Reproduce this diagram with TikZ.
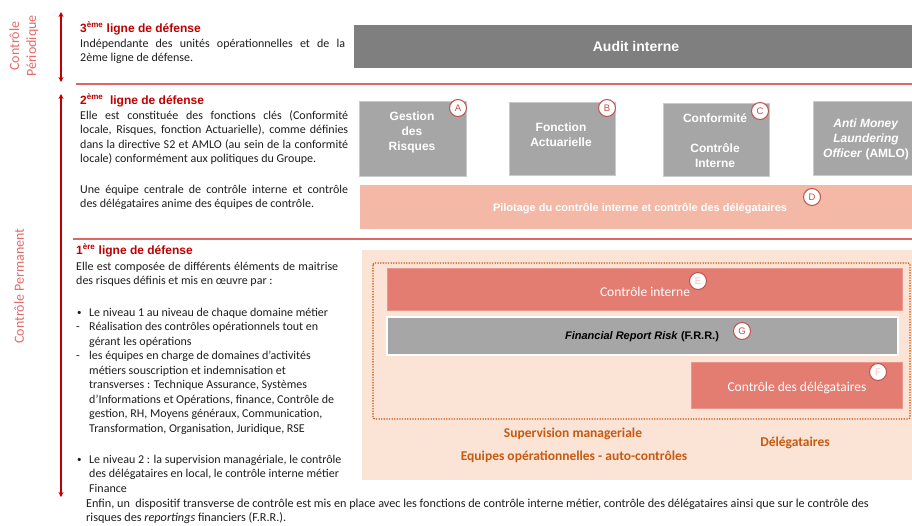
\documentclass[tikz,border=0pt]{standalone}
\usepackage{fontspec}
\setmainfont{Carlito}
\newfontfamily\arialf{Liberation Sans}
\usetikzlibrary{arrows.meta}
\definecolor{darkred}{HTML}{C00000}
\definecolor{linered}{HTML}{E06666}
\definecolor{labelred}{HTML}{E46C6C}
\definecolor{auditgray}{HTML}{7F7F7F}
\definecolor{boxgray}{HTML}{A6A6A6}
\definecolor{pilot}{HTML}{F4B8A6}
\definecolor{peach}{HTML}{FBE3D6}
\definecolor{ctrlred}{HTML}{E37C71}
\definecolor{orangetxt}{HTML}{C55A11}
\definecolor{circred}{HTML}{C0504D}
\definecolor{bodytxt}{HTML}{1E1E1E}
\newcommand\jl[2]{\makebox[#1pt][s]{#2}}
\newcommand\bul{\makebox[13pt][l]{\hspace*{1pt}\raisebox{0.4pt}{\fontsize{9}{9}\selectfont•}}}
\newcommand\dsh{\makebox[13pt][l]{-}}
\begin{document}
\begin{tikzpicture}[x=1pt,y=-1pt,
  sidearrow/.style={draw=darkred, line width=1.6pt, {Stealth[length=5pt,width=5pt]}-{Stealth[length=5pt,width=5pt]}},
  sepline/.style={draw=linered, line width=1.5pt},
  sidelabel/.style={rotate=90, text=labelred, font=\fontsize{14}{17}\selectfont, align=center, inner sep=0pt},
  titletext/.style={anchor=base west, inner sep=0pt, text=darkred, font=\arialf\bfseries\fontsize{12}{14}\selectfont},
  bodytext/.style={anchor=base west, inner sep=0pt, align=left, text=bodytxt, font=\fontsize{12}{14.5}\selectfont},
  graybox/.style={fill=boxgray, draw=boxgray!60!white, line width=0.8pt, inner sep=0pt},
  boxlabel/.style={text=white, font=\arialf\bfseries\fontsize{12}{15}\selectfont, align=center, inner sep=0pt},
  redbox/.style={fill=ctrlred, draw=ctrlred!80!white, line width=0.6pt, inner sep=0pt},
  redlabel/.style={text=white, font=\fontsize{13.5}{16}\selectfont, inner sep=0pt},
  orangelabel/.style={text=orangetxt, font=\bfseries\fontsize{13.5}{16}\selectfont, inner sep=0pt},
  letter/.style={circle, draw=circred, fill=white, line width=1pt, minimum size=17pt, inner sep=0pt, font=\arialf\fontsize{9.5}{10}\selectfont, text=circred},
  paleletter/.style={letter, text=ctrlred!45!white},
]
\useasboundingbox (0,0) rectangle (912,525);
\fill[white] (0,0) rectangle (912,525);

% side arrows and labels
\coordinate (a1t) at (61,12);
\coordinate (a1b) at (61,82);
\coordinate (a2t) at (61,94);
\coordinate (a2b) at (61,497);
\draw[sidearrow] (a1t) -- (a1b);
\draw[sidearrow] (a2t) -- (a2b);
\node[sidelabel] (lperio) at (24,46) {Contrôle\\Périodique};
\node[sidelabel] (lperm) at (19,286) {Contrôle Permanent};

% separator lines
\coordinate (s1l) at (76,84);
\coordinate (s1r) at (912,84);
\coordinate (s2l) at (73,239);
\coordinate (s2r) at (912,239);
\draw[sepline] (s1l) -- (s1r);
\draw[sepline] (s2l) -- (s2r);

% 3eme ligne (base anchor = last line baseline)
\node[titletext] (t3) at (80,32) {3\textsuperscript{ème} ligne de défense};
\node[bodytext] (b3) at (80,61.5) {\jl{265}{Indépendante des unités opérationnelles et de la}\\2ème ligne de défense.};
\node[fill=auditgray, inner sep=0pt, minimum width=558pt, minimum height=43pt] (audit) at (633,46.5) {};
\node[boxlabel, font=\arialf\bfseries\fontsize{14}{16}\selectfont] (auditl) at (636,46.5) {Audit interne};

% 2eme ligne
\node[titletext] (t2) at (80,104) {2\textsuperscript{ème}\ \ ligne de défense};
\node[bodytext] (b2a) at (80,162.5) {\jl{268}{Elle est constituée des fonctions clés (Conformité}\\
\jl{268}{locale, Risques, fonction Actuarielle), comme définies}\\
\jl{268}{dans la directive S2 et AMLO (au sein de la conformité}\\
locale) conformément aux politiques du Groupe.};
\node[bodytext] (b2b) at (80,207.5) {\jl{268}{Une équipe centrale de contrôle interne et contrôle}\\
des délégataires anime des équipes de contrôle.};

\node[graybox, minimum width=107pt, minimum height=75pt] (gest) at (412.5,138.5) {};
\node[boxlabel] (gestl) at (412,132) {Gestion\\des\\Risques};
\node[graybox, minimum width=106pt, minimum height=73pt] (fonc) at (562,138.5) {};
\node[boxlabel] (foncl) at (561,135) {Fonction\\Actuarielle};
\node[graybox, minimum width=106pt, minimum height=73pt] (conf) at (716,139.5) {};
\node[boxlabel] (confl) at (715,140.5) {Conformité\\[15pt]Contrôle\\Interne};
\node[graybox, minimum width=99pt, minimum height=74pt] (amlo) at (862.5,138) {};
\node[boxlabel] (amlol) at (866,139) {\textit{Anti Money}\\\textit{Laundering}\\\textit{Officer} (AMLO)};
\node[fill=pilot, inner sep=0pt, minimum width=552pt, minimum height=44pt] (pilot) at (636,207) {};
\node[boxlabel, font=\arialf\bfseries\fontsize{11}{13}\selectfont] (pilotl) at (640,209) {Pilotage du contrôle interne et contrôle des délégataires};

\node[letter] (cA) at (458,108) {A};
\node[letter] (cB) at (607,108) {B};
\node[letter] (cC) at (760,111) {C};
\node[letter] (cD) at (812,197) {D};

% 1ere ligne
\node[titletext] (t1) at (76,254) {1\textsuperscript{ère} ligne de défense};
\node[bodytext] (b1a) at (76,284.5) {\jl{262}{Elle est composée de différents éléments de maitrise}\\
des risques définis et mis en œuvre par :};
\node[bodytext] (b1b) at (76,432) {\bul Le niveau 1 au niveau de chaque domaine métier\\
\dsh Réalisation des contrôles opérationnels tout en\\
\hspace*{13pt}gérant les opérations\\
\dsh les équipes en charge de domaines d’activités\\
\hspace*{13pt}métiers souscription et indemnisation et\\
\hspace*{13pt}transverses : Technique Assurance, Systèmes\\
\hspace*{13pt}d’Informations et Opérations, finance, Contrôle de\\
\hspace*{13pt}gestion, RH, Moyens généraux, Communication,\\
\hspace*{13pt}Transformation, Organisation, Juridique, RSE};
\node[bodytext] (b1c) at (76,492) {\bul Le niveau 2 : la supervision managériale, le contrôle\\
\hspace*{13pt}des délégataires en local, le contrôle interne métier\\
\hspace*{13pt}Finance};
\node[bodytext, font=\fontsize{12.2}{14.5}\selectfont] (b1d) at (86,521.5) {Enfin, un \ dispositif transverse de contrôle est mis en place avec les fonctions de contrôle interne métier, contrôle des délégataires ainsi que sur le contrôle des\\
risques des \textit{reportings} financiers (F.R.R.).};

% right panel
\node[fill=peach, inner sep=0pt, minimum width=550pt, minimum height=230pt] (panel) at (637,365) {};
\coordinate (dotnw) at (373,263);
\coordinate (dotse) at (910,419);
\draw[orangetxt, line width=1.3pt, dash pattern=on 1.3pt off 1.3pt, rounded corners=2pt] (dotnw) rectangle (dotse);
\node[redbox, minimum width=515pt, minimum height=42pt] (ci) at (644.5,289) {};
\node[redlabel] (cil) at (645,292) {Contrôle interne};
\node[fill=boxgray, draw=white, line width=1.2pt, inner sep=0pt, minimum width=511pt, minimum height=38pt] (frr) at (642.5,336) {};
\node[font=\arialf\bfseries\fontsize{11}{13}\selectfont, text=black, inner sep=0pt] (frrl) at (642,337) {\textit{Financial Report Risk} (F.R.R.)};
\node[redbox, minimum width=211pt, minimum height=46pt] (cd) at (796.5,385) {};
\node[redlabel] (cdl) at (797,388) {Contrôle des délégataires};
\node[paleletter] (cE) at (698,281) {E};
\node[letter] (cG) at (742,331) {G};
\node[paleletter] (cF) at (878,372) {F};

\node[orangelabel] (sup) at (573,434) {Supervision manageriale};
\node[orangelabel] (equ) at (574,457) {Equipes opérationnelles - auto-contrôles};
\node[orangelabel] (del) at (795,443) {Délégataires};
\end{tikzpicture}
\end{document}
